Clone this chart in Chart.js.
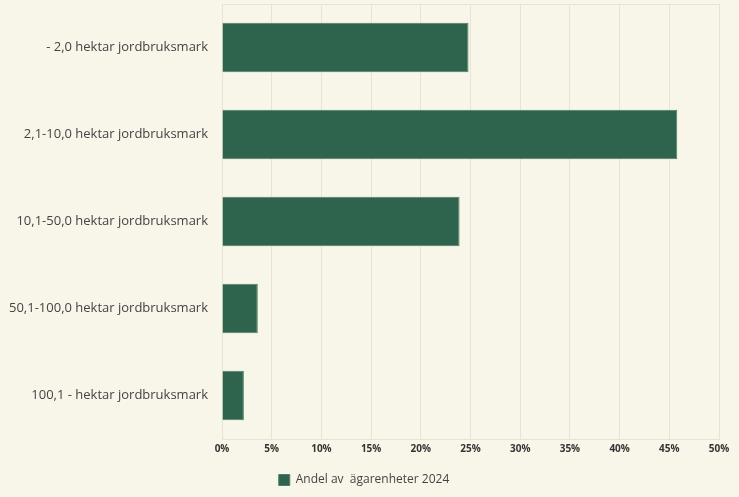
<!DOCTYPE html>
<html>
<head>
<meta charset="utf-8">
<script src="https://cdn.jsdelivr.net/npm/chart.js@4/dist/chart.umd.min.js"></script>
<style>
  html, body { margin: 0; padding: 0; background: #f8f5e9; }
  #wrap { width: 739px; height: 497px; }
</style>
</head>
<body>
<div id="wrap"><canvas id="chart"></canvas></div>
<script>
var categories = [
    '- 2,0 hektar jordbruksmark',
    '2,1-10,0 hektar jordbruksmark',
    '10,1-50,0 hektar jordbruksmark',
    '50,1-100,0 hektar jordbruksmark',
    '100,1 - hektar jordbruksmark'
];

var andelData = [24.8, 45.8, 23.9, 3.6, 2.2];

var seriesLabel = 'Andel av  ägarenheter 2024';

var xMin = 0;
var xMax = 50;
var xStep = 5;

var gridColor = '#e6e3d7';

document.addEventListener('DOMContentLoaded', function() {
    var ctx = document.getElementById('chart').getContext('2d');

    new Chart(ctx, {
        type: 'bar',
        data: {
            labels: categories,
            datasets: [
                {
                    label: seriesLabel,
                    data: andelData,
                    backgroundColor: '#2e644e',
                    borderColor: '#4f7e66',
                    borderWidth: 1,
                    categoryPercentage: 0.8,
                    barPercentage: 0.71
                }
            ]
        },
        options: {
            indexAxis: 'y',
            responsive: true,
            maintainAspectRatio: false,
            animation: false,
            layout: {
                padding: { top: 4, right: 20, left: 9, bottom: 1 }
            },
            plugins: {
                legend: {
                    display: true,
                    position: 'bottom',
                    labels: {
                        color: '#444',
                        boxWidth: 11,
                        boxHeight: 11,
                        padding: 15,
                        font: { family: 'Open Sans', size: 12 }
                    }
                },
                tooltip: {
                    callbacks: {
                        label: function(context) {
                            return context.dataset.label + ': ' + context.formattedValue + '%';
                        }
                    }
                }
            },
            scales: {
                x: {
                    min: xMin,
                    max: xMax,
                    ticks: {
                        stepSize: xStep,
                        color: '#333',
                        padding: 4,
                        font: { family: 'Open Sans', size: 10, weight: 'bold' },
                        callback: function(value) { return value + '%'; }
                    },
                    grid: {
                        color: gridColor,
                        drawTicks: false
                    },
                    border: { display: true, color: gridColor }
                },
                y: {
                    ticks: {
                        color: '#444',
                        padding: 0,
                        font: { family: 'Open Sans', size: 13, lineHeight: 0.5 }
                    },
                    grid: {
                        offset: true,
                        drawTicks: true,
                        tickLength: 14,
                        tickColor: 'rgba(0,0,0,0)',
                        color: function(c) { return c.index === 0 ? gridColor : 'rgba(0,0,0,0)'; }
                    },
                    border: { display: true, color: gridColor }
                }
            }
        }
    });
});
</script>
</body>
</html>
